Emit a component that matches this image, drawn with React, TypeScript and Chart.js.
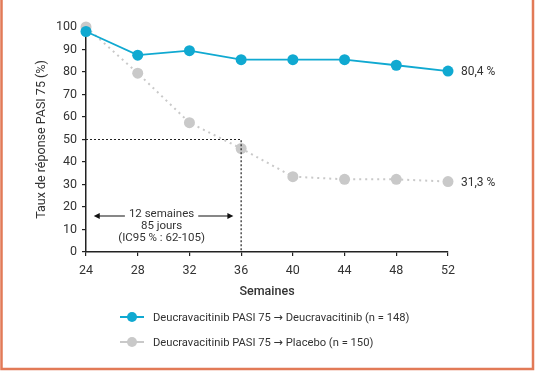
import React, { useEffect, useRef } from "react";
import { Chart, registerables } from "chart.js";

Chart.register(...registerables);

const weeks = [24, 28, 32, 36, 40, 44, 48, 52];
const deucraValues = [98, 87.5, 89.5, 85.5, 85.5, 85.5, 83, 80.4];
const placeboValues = [100, 79.5, 57.5, 46, 33.5, 32.3, 32.3, 31.3];
const seriesLabels = [
  "Deucravacitinib PASI 75 \u2192 Deucravacitinib (n = 148)",
  "Deucravacitinib PASI 75 \u2192 Placebo (n = 150)",
];
const endLabels = ["80,4 %", "31,3 %"];
const yTitle = "Taux de réponse PASI 75 (%)";
const xTitle = "Semaines";
const annotationLines = ["12 semaines", "85 jours", "(IC95 % : 62-105)"];
const refWeek = 36;
const refValue = 50;

const BLUE = "#10a9d1";
const GRAY = "#c9c9c9";
const TEXT = "#333333";
const ORANGE = "#e27a57";
const FONT = "Roboto, 'DejaVu Sans', sans-serif";

export default function App() {
  const ref = useRef<HTMLCanvasElement | null>(null);

  useEffect(() => {
    const canvas = ref.current;
    if (!canvas) return;

    const overlay = {
      id: "overlay",
      beforeDraw(chart: any) {
        const ctx = chart.ctx;
        ctx.save();
        ctx.strokeStyle = ORANGE;
        ctx.lineWidth = 2.5;
        ctx.beginPath();
        ctx.moveTo(1.5, 0);
        ctx.lineTo(1.5, 369);
        ctx.lineTo(533, 369);
        ctx.lineTo(533, 0);
        ctx.stroke();
        ctx.restore();
      },
      afterDatasetsDraw(chart: any) {
        const ctx = chart.ctx;
        const xs = chart.scales.x;
        const ys = chart.scales.y;
        ctx.save();
        // reference dotted lines
        ctx.strokeStyle = "#222";
        ctx.lineWidth = 1.2;
        ctx.setLineDash([2, 2]);
        ctx.beginPath();
        ctx.moveTo(xs.getPixelForValue(weeks[0]), ys.getPixelForValue(refValue));
        ctx.lineTo(xs.getPixelForValue(refWeek), ys.getPixelForValue(refValue));
        ctx.lineTo(xs.getPixelForValue(refWeek), ys.getPixelForValue(0));
        ctx.stroke();
        ctx.setLineDash([]);

        // annotation arrow
        const ay = ys.getPixelForValue(16);
        const ax1 = xs.getPixelForValue(24.6);
        const ax2 = xs.getPixelForValue(35.4);
        const cx = (ax1 + ax2) / 2 - 2;
        ctx.font = `11.5px ${FONT}`;
        const tw = ctx.measureText(annotationLines[0]).width;
        ctx.strokeStyle = "#111";
        ctx.fillStyle = "#111";
        ctx.lineWidth = 1.2;
        ctx.beginPath();
        ctx.moveTo(ax1 + 4, ay);
        ctx.lineTo(cx - tw / 2 - 4, ay);
        ctx.moveTo(cx + tw / 2 + 4, ay);
        ctx.lineTo(ax2 - 4, ay);
        ctx.stroke();
        ctx.beginPath();
        ctx.moveTo(ax1, ay);
        ctx.lineTo(ax1 + 6, ay - 3);
        ctx.lineTo(ax1 + 6, ay + 3);
        ctx.closePath();
        ctx.fill();
        ctx.beginPath();
        ctx.moveTo(ax2, ay);
        ctx.lineTo(ax2 - 6, ay - 3);
        ctx.lineTo(ax2 - 6, ay + 3);
        ctx.closePath();
        ctx.fill();
        ctx.fillStyle = TEXT;
        ctx.textAlign = "center";
        ctx.textBaseline = "middle";
        annotationLines.forEach((t, i) => {
          ctx.fillText(t, cx, ay - 2 + i * 12);
        });

        // end labels
        ctx.font = `12px ${FONT}`;
        ctx.textAlign = "left";
        [deucraValues, placeboValues].forEach((vals, i) => {
          const last = vals.length - 1;
          ctx.fillText(
            endLabels[i],
            xs.getPixelForValue(weeks[last]) + 13,
            ys.getPixelForValue(vals[last]) + 1
          );
        });

        // axis titles
        ctx.font = `500 12.5px ${FONT}`;
        ctx.textAlign = "center";
        ctx.fillText(xTitle, (xs.left + xs.right) / 2, 292);
        ctx.save();
        ctx.translate(42, (ys.top + ys.bottom) / 2);
        ctx.rotate(-Math.PI / 2);
        ctx.font = `12.5px ${FONT}`;
        ctx.fillText(yTitle, 0, 0);
        ctx.restore();

        // legend
        const colors = [BLUE, GRAY];
        const ly = [317, 342];
        ctx.font = `11.2px ${FONT}`;
        ctx.textAlign = "left";
        seriesLabels.forEach((lab, i) => {
          ctx.strokeStyle = colors[i];
          ctx.fillStyle = colors[i];
          ctx.lineWidth = 2;
          ctx.beginPath();
          ctx.moveTo(120, ly[i]);
          ctx.lineTo(144, ly[i]);
          ctx.stroke();
          ctx.beginPath();
          ctx.arc(132, ly[i], 5, 0, Math.PI * 2);
          ctx.fill();
          ctx.fillStyle = TEXT;
          ctx.fillText(lab, 153, ly[i] + 1);
        });
        ctx.restore();
      },
    };

    const chart = new Chart(canvas, {
      type: "line",
      data: {
        datasets: [
          {
            label: seriesLabels[0],
            data: weeks.map((w, i) => ({ x: w, y: deucraValues[i] })),
            borderColor: BLUE,
            backgroundColor: BLUE,
            borderWidth: 1.8,
            pointRadius: 5.5,
            pointBorderWidth: 0,
            pointBackgroundColor: BLUE,
            tension: 0,
          },
          {
            label: seriesLabels[1],
            data: weeks.map((w, i) => ({ x: w, y: placeboValues[i] })),
            borderColor: GRAY,
            backgroundColor: GRAY,
            borderWidth: 2,
            borderDash: [2, 4],
            pointRadius: 5.5,
            pointBorderWidth: 0,
            pointBackgroundColor: GRAY,
            tension: 0,
          },
        ],
      },
      options: {
        animation: false,
        responsive: false,
        clip: false as any,
        layout: { padding: { left: 0, top: 27, right: 88, bottom: 0 } },
        plugins: {
          legend: { display: false },
          tooltip: { enabled: false },
        },
        scales: {
          x: {
            type: "linear",
            min: 24,
            max: 52,
            afterFit: (s: any) => {
              s.height = 386 - 27 - 225;
            },
            ticks: {
              stepSize: 4,
              color: TEXT,
              font: { family: FONT, size: 12.5 },
              padding: 7,
            },
            grid: {
              drawOnChartArea: false,
              drawTicks: true,
              tickLength: 4,
              color: "#222",
              lineWidth: 1.2,
            },
            border: { color: "#222", width: 1.5 },
          },
          y: {
            min: 0,
            max: 100,
            afterFit: (s: any) => {
              s.width = 86;
            },
            ticks: {
              stepSize: 10,
              color: TEXT,
              font: { family: FONT, size: 12.5 },
              padding: 5,
            },
            grid: {
              drawOnChartArea: false,
              drawTicks: true,
              tickLength: 4,
              color: "#222",
              lineWidth: 1.2,
            },
            border: { color: "#222", width: 1.5 },
          },
        },
      },
      plugins: [overlay],
    });
    return () => chart.destroy();
  }, []);

  return (
    <div style={{ position: "fixed", left: 0, top: 0, width: 536, height: 386, background: "#fff" }}>
      <canvas ref={ref} width={536} height={386} style={{ width: 536, height: 386 }} />
    </div>
  );
}
